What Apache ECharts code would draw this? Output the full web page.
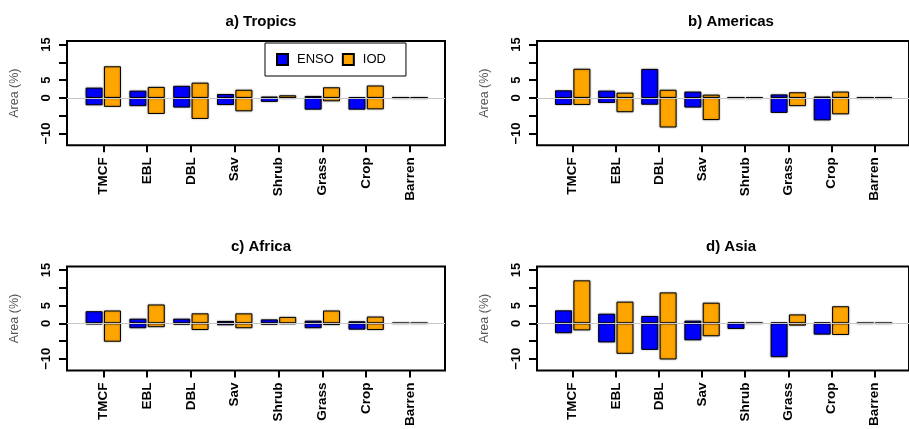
<!DOCTYPE html>
<html><head><meta charset="utf-8">
<script src="https://cdn.jsdelivr.net/npm/echarts@6/dist/echarts.min.js"></script>
<style>html,body{margin:0;padding:0;background:#fff}#c{width:909px;height:429px}</style>
</head><body><div id="c"></div>
<script>
const categories = ["TMCF","EBL","DBL","Sav","Shrub","Grass","Crop","Barren"];
const panelTitles = ["a) Tropics","b) Americas","c) Africa","d) Asia"];
const yTicks = [-10,-5,0,5,10,15];
const yLabels = [-10,0,5,15];

// positive / negative extents of area change (%)
const tropicsEnsoPos = [2.9, 2.06, 3.4, 1.1, 0.4, 0.56, 0.2, 0.03];
const tropicsEnsoNeg = [-2.06,-2.3,-2.7,-2.0,-1.1,-3.3,-3.3,-0.03];
const tropicsIodPos  = [8.9, 3.1, 4.3, 2.3, 0.75, 3.0, 3.5, 0.03];
const tropicsIodNeg  = [-2.5,-4.5,-5.9,-3.75,-0.2,-0.94,-3.2,-0.03];

const americasEnsoPos = [2.15, 2.06, 8.15, 1.8, 0.04, 1.0, 0.4, 0.04];
const americasEnsoNeg = [-1.97,-1.4,-1.9,-2.7,-0.04,-4.2,-6.3,-0.04];
const americasIodPos  = [8.2, 1.5, 2.3, 0.94, 0.12, 1.6, 1.8, 0.1];
const americasIodNeg  = [-1.97,-4.0,-8.3,-6.2,-0.12,-2.3,-4.6,-0.1];

const africaEnsoPos = [3.4, 1.3, 1.3, 0.66, 1.1, 0.75, 0.56, 0.03];
const africaEnsoNeg = [-0.3,-1.4,-0.4,-0.56,-0.4,-1.4,-1.8,-0.03];
const africaIodPos  = [3.6, 5.3, 2.8, 2.8, 1.8, 3.6, 1.9, 0.03];
const africaIodNeg  = [-5.2,-1.1,-1.9,-1.4,-0.2,-0.5,-1.9,-0.03];

const asiaEnsoPos = [3.65, 2.7, 2.06, 0.75, 0.2, 0.2, 0.2, 0.03];
const asiaEnsoNeg = [-2.8,-5.4,-7.5,-4.8,-1.6,-9.55,-3.2,-0.03];
const asiaIodPos  = [12.1, 6.1, 8.7, 5.8, 0.08, 2.5, 4.8, 0.03];
const asiaIodNeg  = [-2.0,-8.6,-10.2,-3.65,-0.08,-0.66,-3.3,-0.03];

const panels = [
  [tropicsEnsoPos, tropicsEnsoNeg, tropicsIodPos, tropicsIodNeg],
  [americasEnsoPos, americasEnsoNeg, americasIodPos, americasIodNeg],
  [africaEnsoPos, africaEnsoNeg, africaIodPos, africaIodNeg],
  [asiaEnsoPos, asiaEnsoNeg, asiaIodPos, asiaIodNeg]
];

const FONT = "Liberation Sans";
const layout = [
  {left: 67, top: 41}, {left: 537, top: 41},
  {left: 67, top: 266.5}, {left: 537, top: 266.5}
];
const GW = 378, GH = 104.3;
const ENSO_COLOR = "#0000FF", IOD_COLOR = "#FFA500";

const grid = [], xAxis = [], yAxis = [], series = [], title = [];
const xs = categories.map((c, i) => i + 1);

panels.forEach((p, k) => {
  const L = layout[k];
  grid.push({left: L.left, top: L.top, width: GW, height: GH, show: true,
    borderColor: "#000", borderWidth: 2, backgroundColor: "transparent"});
  title.push({text: panelTitles[k], left: L.left + GW / 2, top: L.top - 32, textAlign: "center",
    textStyle: {fontFamily: FONT, fontSize: 15, fontWeight: "bold", color: "#000"}});
  xAxis.push({type: "value", gridIndex: k, min: 0.172, max: 8.8, position: "bottom",
    axisLine: {show: false, onZero: false}, splitLine: {show: false},
    axisTick: {show: true, customValues: xs, length: 7, lineStyle: {color: "#000", width: 2}},
    axisLabel: {show: true, customValues: xs, rotate: 90, margin: 12,
      formatter: v => categories[Math.round(v) - 1] || "",
      fontFamily: FONT, fontSize: 13.5, fontWeight: "bold", color: "#000"}});
  yAxis.push({type: "value", gridIndex: k, min: -13.3, max: 16.0,
    name: "Area (%)", nameLocation: "middle", nameGap: 46,
    nameTextStyle: {fontFamily: FONT, fontSize: 12.5, color: "#555"},
    axisLine: {show: false, onZero: false}, splitLine: {show: false},
    axisTick: {show: true, customValues: yTicks, length: 8, lineStyle: {color: "#000", width: 2}},
    axisLabel: {show: true, customValues: yLabels, rotate: 90, margin: 14,
      formatter: v => (v < 0 ? "\u2212" + Math.abs(v) : String(v)),
      fontFamily: FONT, fontSize: 13, fontWeight: "bold", color: "#000"}});
  // zero reference line
  series.push({type: "line", xAxisIndex: k, yAxisIndex: k, data: [], z: 1, silent: true,
    markLine: {symbol: "none", silent: true, label: {show: false},
      lineStyle: {color: "#c8c8c8", width: 1.2, type: "solid"}, data: [{yAxis: 0}]}});
  const mk = (name, vals, color, stack) => ({
    type: "bar", name, xAxisIndex: k, yAxisIndex: k, stack: stack + k, z: 3,
    barWidth: 17, barGap: "8%",
    itemStyle: {color, borderColor: "#000", borderWidth: 1,
      shadowColor: "rgba(0,0,0,0.35)", shadowBlur: 2},
    emphasis: {disabled: true},
    data: vals.map((v, i) => [xs[i], v])
  });
  series.push(mk("ENSO", p[0], ENSO_COLOR, "enso"));
  series.push(mk("ENSO", p[1], ENSO_COLOR, "enso"));
  series.push(mk("IOD", p[2], IOD_COLOR, "iod"));
  series.push(mk("IOD", p[3], IOD_COLOR, "iod"));
});

const chart = echarts.init(document.getElementById("c"), null, {renderer: "canvas"});
chart.setOption({
  animation: false,
  backgroundColor: "#fff",
  title, grid, xAxis, yAxis, series,
  legend: {data: ["ENSO", "IOD"], left: 265, top: 43, orient: "horizontal",
    icon: "rect", itemWidth: 11, itemHeight: 11, itemGap: 8,
    borderColor: "#000", borderWidth: 1, padding: [10, 20, 10, 11],
    backgroundColor: "#fff",
    textStyle: {fontFamily: FONT, fontSize: 13, color: "#000", padding: [0, 0, 0, 4]}}
});
</script></body></html>
